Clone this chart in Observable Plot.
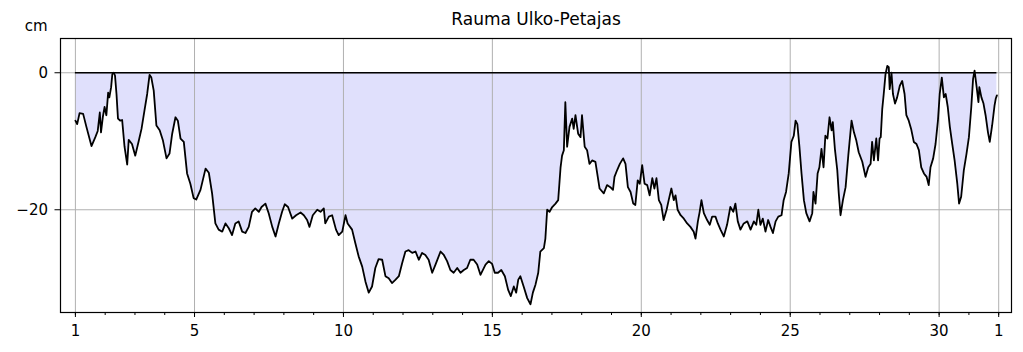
<!DOCTYPE html>
<html>
<head>
<meta charset="utf-8">
<script src="https://cdn.jsdelivr.net/npm/d3@7"></script>
<script src="https://cdn.jsdelivr.net/npm/@observablehq/plot@0.6"></script>
<style>
  html, body { margin: 0; padding: 0; background: #fff; }
  #chart { width: 1023px; height: 352px; }
</style>
</head>
<body>
<div id="chart"></div>
<script>
const title = "Rauma Ulko-Petajas";
const yUnit = "cm";
const majorTicks = [1, 5, 10, 15, 20, 25, 30, 32];
const majorLabels = ["1", "5", "10", "15", "20", "25", "30", "1"];
const minorTicks = d3.range(1, 33);
const yTicks = [0, -20];

const days = [
  1.00, 1.06, 1.14, 1.26, 1.37, 1.54, 1.67, 1.75, 1.82, 1.86, 1.92, 1.98, 2.04, 2.10, 2.14, 2.20, 2.24, 2.29, 2.33, 2.38,
  2.43, 2.51, 2.57, 2.65, 2.74, 2.79, 2.90, 3.01, 3.13, 3.22, 3.32, 3.41, 3.49, 3.55, 3.63, 3.72, 3.83, 3.94, 4.06, 4.16,
  4.25, 4.36, 4.44, 4.53, 4.64, 4.75, 4.86, 4.97, 5.06, 5.20, 5.37, 5.48, 5.59, 5.70, 5.81, 5.93, 6.04, 6.15, 6.26, 6.37,
  6.48, 6.60, 6.71, 6.82, 6.93, 7.04, 7.16, 7.25, 7.38, 7.49, 7.61, 7.72, 7.83, 7.94, 8.03, 8.14, 8.28, 8.41, 8.56, 8.67,
  8.78, 8.86, 8.97, 9.12, 9.23, 9.34, 9.39, 9.51, 9.62, 9.75, 9.84, 9.96, 10.07, 10.14, 10.29, 10.40, 10.51, 10.63, 10.74, 10.85,
  10.96, 11.07, 11.18, 11.30, 11.41, 11.52, 11.63, 11.75, 11.86, 11.97, 12.08, 12.19, 12.31, 12.42, 12.53, 12.64, 12.75, 12.86, 12.98, 13.09,
  13.26, 13.37, 13.48, 13.59, 13.70, 13.82, 13.93, 14.04, 14.15, 14.26, 14.37, 14.49, 14.60, 14.77, 14.88, 14.99, 15.08, 15.19, 15.30, 15.42,
  15.53, 15.62, 15.72, 15.80, 15.87, 15.94, 16.05, 16.17, 16.28, 16.36, 16.45, 16.54, 16.61, 16.73, 16.78, 16.84, 16.92, 17.01, 17.12, 17.21,
  17.29, 17.34, 17.40, 17.45, 17.51, 17.59, 17.68, 17.73, 17.79, 17.88, 17.96, 18.01, 18.10, 18.18, 18.26, 18.35, 18.46, 18.60, 18.74, 18.85,
  18.96, 19.05, 19.10, 19.19, 19.28, 19.39, 19.47, 19.55, 19.64, 19.73, 19.80, 19.88, 19.95, 20.03, 20.11, 20.20, 20.28, 20.37, 20.44, 20.51,
  20.59, 20.67, 20.75, 20.85, 20.92, 21.01, 21.09, 21.15, 21.22, 21.32, 21.43, 21.54, 21.65, 21.76, 21.82, 21.90, 21.96, 22.02, 22.10, 22.21,
  22.30, 22.38, 22.49, 22.57, 22.66, 22.77, 22.88, 22.99, 23.09, 23.16, 23.24, 23.33, 23.44, 23.56, 23.67, 23.78, 23.86, 23.93, 24.00, 24.08,
  24.17, 24.26, 24.34, 24.42, 24.51, 24.60, 24.71, 24.78, 24.86, 24.95, 25.04, 25.12, 25.18, 25.24, 25.31, 25.38, 25.46, 25.54, 25.65, 25.74,
  25.78, 25.85, 25.92, 25.98, 26.05, 26.12, 26.18, 26.25, 26.32, 26.39, 26.43, 26.50, 26.58, 26.63, 26.69, 26.77, 26.86, 26.95, 27.06, 27.14,
  27.22, 27.30, 27.42, 27.53, 27.62, 27.70, 27.75, 27.81, 27.89, 27.95, 28.00, 28.04, 28.09, 28.14, 28.20, 28.26, 28.31, 28.34, 28.40, 28.45,
  28.52, 28.59, 28.68, 28.76, 28.84, 28.90, 28.98, 29.06, 29.15, 29.24, 29.32, 29.40, 29.49, 29.58, 29.65, 29.71, 29.80, 29.88, 29.96, 30.02,
  30.09, 30.16, 30.22, 30.29, 30.36, 30.44, 30.52, 30.61, 30.67, 30.74, 30.83, 30.92, 31.00, 31.08, 31.14, 31.19, 31.26, 31.32, 31.35, 31.42,
  31.49, 31.56, 31.64, 31.70, 31.78, 31.86, 31.90, 31.94
];

const levels = [
  -7.0, -7.5, -5.9, -6.0, -7.9, -10.7, -9.4, -8.5, -5.8, -8.7, -6.5, -5.0, -6.2, -2.9, -3.6, -2.1, -0.2, 0.0, -0.4, -3.1,
  -6.7, -7.0, -6.9, -10.8, -13.4, -9.8, -10.4, -12.1, -9.9, -8.2, -5.5, -3.1, -0.3, -0.7, -2.6, -7.7, -8.4, -9.9, -12.5, -11.8,
  -8.9, -6.5, -7.0, -9.6, -10.1, -14.7, -16.2, -18.3, -18.5, -17.1, -14.0, -14.6, -17.6, -22.0, -22.9, -23.2, -22.0, -22.7, -23.7, -22.0,
  -21.7, -23.2, -23.4, -22.5, -20.3, -19.8, -20.3, -19.6, -19.1, -20.5, -22.5, -23.9, -22.0, -20.3, -19.2, -19.6, -21.3, -20.8, -20.4, -20.8,
  -21.5, -22.5, -20.8, -20.0, -20.3, -19.8, -22.0, -21.0, -20.8, -22.9, -23.7, -23.2, -20.8, -22.0, -22.9, -24.9, -26.8, -28.3, -30.5, -32.1,
  -31.2, -28.5, -27.2, -27.3, -29.7, -30.0, -30.7, -30.2, -29.7, -27.8, -26.1, -25.9, -26.3, -26.1, -27.3, -26.3, -26.6, -27.3, -29.2, -28.0,
  -26.1, -26.6, -27.5, -28.8, -29.2, -28.5, -29.2, -28.8, -28.5, -27.3, -27.3, -28.0, -29.5, -28.0, -27.5, -27.9, -29.2, -29.2, -28.8, -29.7,
  -31.7, -32.6, -31.2, -32.1, -30.2, -29.7, -31.2, -32.9, -33.8, -32.1, -30.9, -29.2, -26.1, -25.6, -24.2, -20.0, -20.3, -19.6, -19.1, -18.6,
  -13.8, -12.1, -11.3, -4.3, -10.8, -7.9, -6.7, -8.2, -6.2, -8.9, -9.4, -6.2, -10.8, -11.3, -13.3, -12.8, -13.0, -16.9, -17.6, -16.4,
  -16.7, -17.1, -15.2, -14.2, -13.3, -12.5, -13.3, -16.7, -17.4, -19.1, -19.3, -15.7, -16.2, -13.5, -16.2, -16.4, -17.9, -15.4, -16.9, -15.4,
  -18.6, -19.3, -21.5, -20.0, -18.6, -16.9, -18.6, -17.9, -20.0, -20.8, -21.3, -22.0, -22.5, -23.2, -24.2, -21.7, -20.3, -18.6, -20.5, -21.5,
  -22.2, -21.0, -21.0, -22.0, -22.9, -23.9, -22.2, -19.6, -20.3, -19.1, -21.7, -22.9, -22.0, -21.7, -22.9, -21.7, -22.2, -20.0, -22.2, -21.3,
  -23.2, -21.5, -22.5, -23.4, -21.7, -21.0, -20.8, -18.6, -17.4, -14.7, -10.1, -9.2, -7.0, -7.5, -10.8, -14.7, -18.6, -20.5, -21.7, -20.5,
  -17.4, -19.1, -14.7, -13.8, -11.1, -13.8, -9.2, -9.6, -6.5, -8.4, -7.2, -11.1, -14.2, -17.6, -20.8, -18.6, -16.7, -12.1, -7.0, -8.7,
  -9.9, -11.6, -13.0, -15.2, -13.8, -13.3, -10.1, -12.8, -9.6, -12.8, -9.6, -9.4, -5.3, -3.1, -0.2, 1.0, 0.8, -2.4, 0.0, -3.1,
  -4.5, -3.6, -1.9, -1.2, -3.1, -6.2, -7.0, -8.2, -10.1, -10.4, -11.3, -13.8, -14.7, -15.2, -16.4, -13.8, -12.5, -10.4, -7.0, -3.1,
  -0.7, -3.6, -3.1, -5.0, -7.9, -10.4, -12.8, -16.2, -19.1, -18.1, -14.2, -11.8, -9.4, -5.0, -0.9, 0.3, -2.1, -4.3, -2.1, -3.6,
  -4.5, -6.2, -8.7, -10.1, -7.7, -4.8, -3.8, -3.3
];

const data = days.map((d, i) => ({day: d, level: levels[i]}));
const fmtY = d => (d < 0 ? "\u2212" + Math.abs(d) : String(d));
const fmtX = d => majorLabels[majorTicks.indexOf(d)];

const chart = Plot.plot({
  width: 1023,
  height: 352,
  marginLeft: 60,
  marginRight: 12,
  marginTop: 38,
  marginBottom: 40,
  style: {fontFamily: "'DejaVu Sans', sans-serif", fontSize: "15px", background: "#fff", color: "#000"},
  x: {domain: [0.5, 32.43], label: null},
  y: {domain: [-35, 5], label: null},
  marks: [
    Plot.areaY(data, {x: "day", y: "level", fill: "#e0e0fc"}),
    Plot.gridX(majorTicks, {stroke: "#b0b0b0", strokeOpacity: 1, strokeWidth: 1}),
    Plot.gridY(yTicks, {stroke: "#b0b0b0", strokeOpacity: 1, strokeWidth: 1}),
    Plot.ruleY([0], {x1: days[0], x2: days[days.length - 1], stroke: "#000", strokeWidth: 1.3}),
    Plot.line(data, {x: "day", y: "level", stroke: "#000", strokeWidth: 1.8}),
    Plot.frame({stroke: "#000", strokeWidth: 1.2}),
    Plot.axisX(minorTicks, {tickSize: 3, tickFormat: () => "", stroke: "#000", label: null}),
    Plot.axisX(majorTicks, {tickSize: 5, tickPadding: 8, tickFormat: fmtX, fontSize: 15, stroke: "#000", label: null}),
    Plot.axisY(yTicks, {tickSize: 5.5, tickPadding: 7, tickFormat: fmtY, fontSize: 15, stroke: "#000", label: null}),
    Plot.text([title], {text: d => d, frameAnchor: "top", dy: -14, lineAnchor: "bottom", fontSize: 17}),
    Plot.text([yUnit], {text: d => d, frameAnchor: "top-left", dx: -13, dy: -8, textAnchor: "end", lineAnchor: "bottom", fontSize: 15})
  ]
});
document.getElementById("chart").appendChild(chart);
</script>
</body>
</html>
